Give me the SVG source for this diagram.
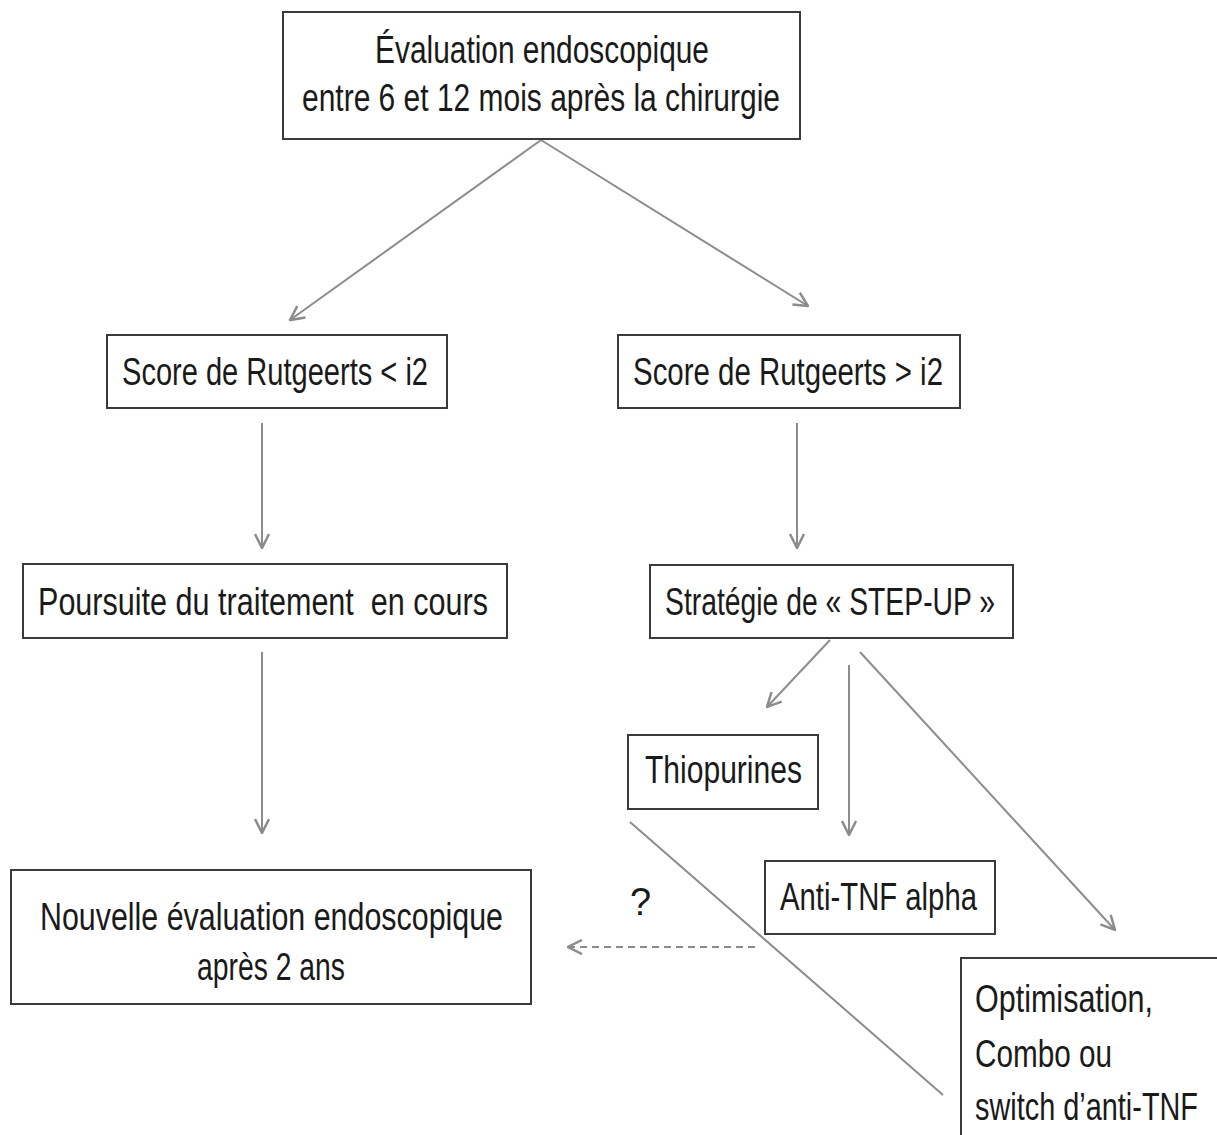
<svg xmlns="http://www.w3.org/2000/svg" width="1217" height="1135" viewBox="0 0 1217 1135">
<style>
.box{fill:#fff;stroke:#3a3a3a;stroke-width:2}
.t{font-family:"Liberation Sans",Arial,sans-serif;font-size:38px;fill:#1a1a1a}
.c{stroke:#8c8c8c;stroke-width:2;fill:none}
.a{marker-end:url(#ah)}
.d{stroke-dasharray:7 5}
</style>
<defs>
<marker id="ah" viewBox="0 0 16 16" refX="15" refY="8" markerWidth="16" markerHeight="16" markerUnits="userSpaceOnUse" orient="auto">
<path d="M1,1 L15,8 L1,15" fill="none" stroke="#8c8c8c" stroke-width="2.5"/>
</marker>
</defs>
<rect width="1217" height="1135" fill="#fff"/>
<g id="connectors">
<path class="c a" d="M541,140 L290,320"/>
<path class="c a" d="M541,140 L808,306"/>
<path class="c a" d="M262,423 L262,548"/>
<path class="c a" d="M797,423 L797,548"/>
<path class="c a" d="M262,652 L262,833"/>
<path class="c a" d="M830,640 L767,707"/>
<path class="c a" d="M849,665 L849,835"/>
<path class="c a" d="M860,652 L1115,930"/>
<path class="c" d="M630,822 L943,1095"/>
<path class="c a d" d="M755,947 L568,947"/>
</g>
<g id="n-top">
<rect class="box" x="283" y="12" width="517" height="127"/>
<text class="t" x="375" y="63" font-size="42" textLength="334" lengthAdjust="spacingAndGlyphs">Évaluation endoscopique</text>
<text class="t" x="302" y="111" font-size="42" textLength="478" lengthAdjust="spacingAndGlyphs">entre 6 et 12 mois après la chirurgie</text>
</g>
<g id="n-score-low">
<rect class="box" x="107" y="335" width="340" height="73"/>
<text class="t" x="122" y="385" textLength="306" lengthAdjust="spacingAndGlyphs">Score de Rutgeerts &lt; i2</text>
</g>
<g id="n-score-high">
<rect class="box" x="618" y="335" width="342" height="73"/>
<text class="t" x="633" y="385" textLength="310" lengthAdjust="spacingAndGlyphs">Score de Rutgeerts &gt; i2</text>
</g>
<g id="n-poursuite">
<rect class="box" x="23" y="564" width="484" height="74"/>
<text class="t" x="38" y="615" textLength="450" lengthAdjust="spacingAndGlyphs" xml:space="preserve">Poursuite du traitement  en cours</text>
</g>
<g id="n-strategie">
<rect class="box" x="650" y="565" width="363" height="73"/>
<text class="t" x="665" y="615" textLength="330" lengthAdjust="spacingAndGlyphs">Stratégie de « STEP-UP »</text>
</g>
<g id="n-thiopurines">
<rect class="box" x="628" y="735" width="190" height="74"/>
<text class="t" x="645" y="783" textLength="157" lengthAdjust="spacingAndGlyphs">Thiopurines</text>
</g>
<g id="n-antitnf">
<rect class="box" x="765" y="861" width="230" height="73"/>
<text class="t" x="780" y="910" textLength="197" lengthAdjust="spacingAndGlyphs">Anti-TNF alpha</text>
</g>
<g id="n-nouvelle">
<rect class="box" x="11" y="870" width="520" height="134"/>
<text class="t" x="40" y="930" textLength="463" lengthAdjust="spacingAndGlyphs">Nouvelle évaluation endoscopique</text>
<text class="t" x="197" y="980" textLength="148" lengthAdjust="spacingAndGlyphs">après 2 ans</text>
</g>
<g id="n-optimisation">
<rect x="961" y="958" width="256" height="177" fill="#fff"/>
<path d="M1217,958 H961 V1135" fill="none" stroke="#3a3a3a" stroke-width="2"/>
<text class="t" x="975" y="1012" textLength="178" lengthAdjust="spacingAndGlyphs">Optimisation,</text>
<text class="t" x="975" y="1067" textLength="137" lengthAdjust="spacingAndGlyphs">Combo ou</text>
<text class="t" x="975" y="1120" textLength="223" lengthAdjust="spacingAndGlyphs">switch d’anti-TNF</text>
</g>
<g id="label-q">
<text class="t" x="630" y="915">?</text>
</g>
</svg>
